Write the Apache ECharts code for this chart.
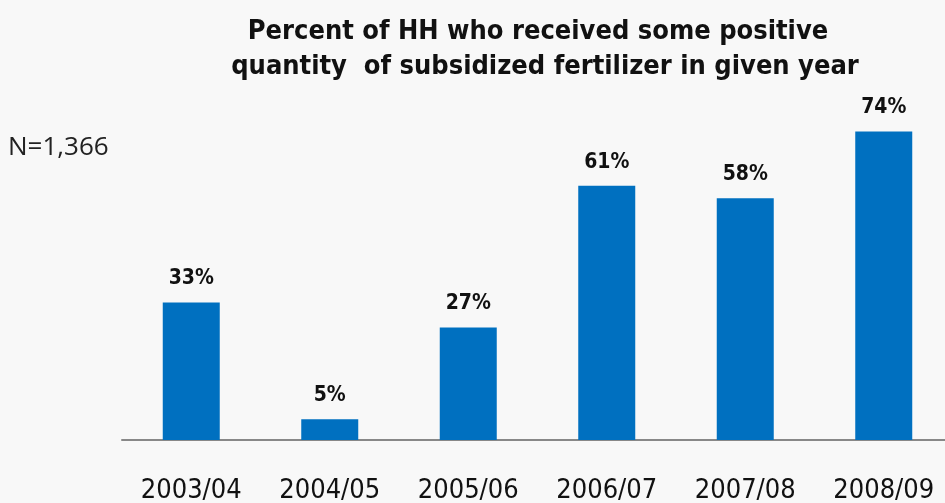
<!DOCTYPE html>
<html><head><meta charset="utf-8">
<script src="https://cdn.jsdelivr.net/npm/echarts@6/dist/echarts.min.js"></script>
<style>html,body{margin:0;padding:0;background:#f8f8f8}#c{width:945px;height:503px}</style>
</head><body><div id="c"></div>
<script>
const categories = ['2003/04','2004/05','2005/06','2006/07','2007/08','2008/09'];
const values = [33, 5, 27, 61, 58, 74];
const titleLines = ['Percent of HH who received some positive', 'quantity  of subsidized fertilizer in given year'];
const noteText = 'N=1,366';

const titleStyle = {fontFamily: 'DejaVu Sans Condensed', fontWeight: 'bold', fontSize: 27, color: '#111'};
const chart = echarts.init(document.getElementById('c'));
chart.setOption({
  backgroundColor: '#f8f8f8',
  animation: false,
  title: [
    {text: titleLines[0], left: 533, top: 13, textAlign: 'center', textStyle: titleStyle},
    {text: titleLines[1], left: 540, top: 48, textAlign: 'center', textStyle: titleStyle}
  ],
  graphic: [{
    type: 'text', left: 8, top: 135,
    style: {text: noteText, font: '26px "Open Sans"', fill: '#222'}
  }],
  grid: {left: 122, width: 831, top: 23, bottom: 63, outerBoundsMode: 'none', containLabel: false},
  xAxis: {
    type: 'category', data: categories,
    axisLine: {lineStyle: {color: '#888', width: 2}},
    axisTick: {show: false},
    axisLabel: {margin: 37, fontFamily: 'DejaVu Sans Condensed', fontSize: 27, color: '#111'}
  },
  yAxis: {type: 'value', min: 0, max: 100, show: false, splitLine: {show: false}},
  series: [{
    type: 'bar', data: values, barWidth: 57,
    itemStyle: {color: '#0070C0'},
    label: {show: true, position: 'top', distance: 13, formatter: '{c}%',
      fontFamily: 'DejaVu Sans Condensed', fontWeight: 'bold', fontSize: 21, color: '#111'}
  }]
});
</script></body></html>
